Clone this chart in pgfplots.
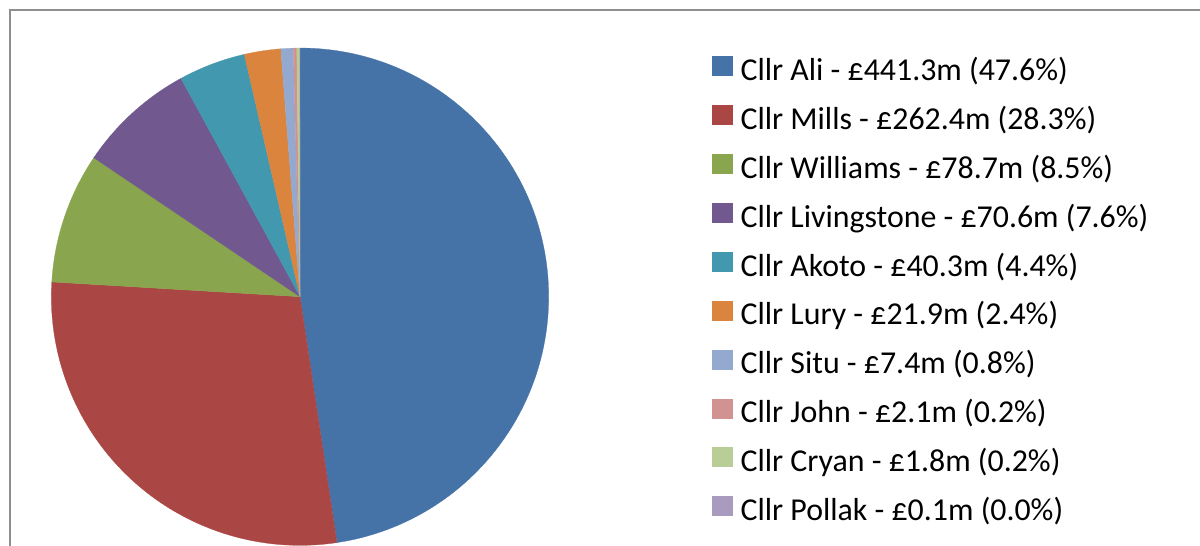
\documentclass[border=0pt]{standalone}
\usepackage{pgfplots}
\usepackage{pgfplotstable}
\pgfplotsset{compat=1.18}
\usepackage{fontspec}
\setmainfont{Carlito}
\definecolor{c0}{HTML}{4572A7}
\definecolor{c1}{HTML}{AA4643}
\definecolor{c2}{HTML}{89A54E}
\definecolor{c3}{HTML}{71588F}
\definecolor{c4}{HTML}{4198AF}
\definecolor{c5}{HTML}{DB843D}
\definecolor{c6}{HTML}{93A9CF}
\definecolor{c7}{HTML}{D19392}
\definecolor{c8}{HTML}{B9CD96}
\definecolor{c9}{HTML}{A99BBD}
\definecolor{framegray}{HTML}{8E8E8E}
\pgfplotstableread{
name value
Ali 441.3
Mills 262.4
Williams 78.7
Livingstone 70.6
Akoto 40.3
Lury 21.9
Situ 7.4
John 2.1
Cryan 1.8
Pollak 0.1
}\datatable
\xdef\total{0}
\foreach \i in {0,...,9}{%
  \pgfplotstablegetelem{\i}{value}\of\datatable
  \pgfmathsetmacro\t{\total+\pgfplotsretval}%
  \xdef\total{\t}}
\xdef\cur{90}
\foreach \i in {0,...,9}{%
  \pgfplotstablegetelem{\i}{value}\of\datatable
  \pgfmathsetmacro\e{\cur-\pgfplotsretval/\total*360}%
  \expandafter\xdef\csname sa\i\endcsname{\cur}%
  \expandafter\xdef\csname ea\i\endcsname{\e}%
  \xdef\cur{\e}}
\begin{document}%
\begin{tikzpicture}
\begin{axis}[
  x=0.75pt, y=0.75pt, y dir=reverse,
  xmin=0, xmax=1200, ymin=0, ymax=546,
  hide axis, clip=false,
  legend cell align=left,
  legend style={at={(axis cs:712,56.0)}, anchor=north west, draw=none, fill=none,
    inner sep=0pt, outer sep=0pt, row sep=13.5pt,
    font=\fontsize{23.9pt}{28pt}\selectfont,
    nodes={inner sep=0pt, text height=14pt, text depth=5pt},
    /tikz/every odd column/.append style={column sep=6pt}},
]
\coordinate (ll) at (axis cs:0,546);
\coordinate (ur) at (axis cs:1200,0);
\draw[framegray, line width=1.5pt] (axis cs:10,546) -- (axis cs:10,10) -- (axis cs:1200,10);
\pgfplotsinvokeforeach{0,...,9}{%
  \filldraw[fill=c#1, draw=c#1, line width=0.2pt] (axis cs:300,296.7) -- ++(\csname sa#1\endcsname:186.5pt)
    arc[start angle=\csname sa#1\endcsname, end angle=\csname ea#1\endcsname, radius=186.5pt] -- cycle;
}
\addlegendimage{legend image code/.code={\fill[c0] (0pt,-0.75pt) rectangle (15pt,13.5pt);}}
\addlegendentry{Cllr Ali - £441.3m (47.6\%)}
\addlegendimage{legend image code/.code={\fill[c1] (0pt,-0.75pt) rectangle (15pt,13.5pt);}}
\addlegendentry{Cllr Mills - £262.4m (28.3\%)}
\addlegendimage{legend image code/.code={\fill[c2] (0pt,-0.75pt) rectangle (15pt,13.5pt);}}
\addlegendentry{Cllr Williams - £78.7m (8.5\%)}
\addlegendimage{legend image code/.code={\fill[c3] (0pt,-0.75pt) rectangle (15pt,13.5pt);}}
\addlegendentry{Cllr Livingstone - £70.6m (7.6\%)}
\addlegendimage{legend image code/.code={\fill[c4] (0pt,-0.75pt) rectangle (15pt,13.5pt);}}
\addlegendentry{Cllr Akoto - £40.3m (4.4\%)}
\addlegendimage{legend image code/.code={\fill[c5] (0pt,-0.75pt) rectangle (15pt,13.5pt);}}
\addlegendentry{Cllr Lury - £21.9m (2.4\%)}
\addlegendimage{legend image code/.code={\fill[c6] (0pt,-0.75pt) rectangle (15pt,13.5pt);}}
\addlegendentry{Cllr Situ - £7.4m (0.8\%)}
\addlegendimage{legend image code/.code={\fill[c7] (0pt,-0.75pt) rectangle (15pt,13.5pt);}}
\addlegendentry{Cllr John - £2.1m (0.2\%)}
\addlegendimage{legend image code/.code={\fill[c8] (0pt,-0.75pt) rectangle (15pt,13.5pt);}}
\addlegendentry{Cllr Cryan - £1.8m (0.2\%)}
\addlegendimage{legend image code/.code={\fill[c9] (0pt,-0.75pt) rectangle (15pt,13.5pt);}}
\addlegendentry{Cllr Pollak - £0.1m (0.0\%)}
\end{axis}
\pgfresetboundingbox
\path[use as bounding box] (ll) rectangle (ur);
\end{tikzpicture}%
\end{document}
